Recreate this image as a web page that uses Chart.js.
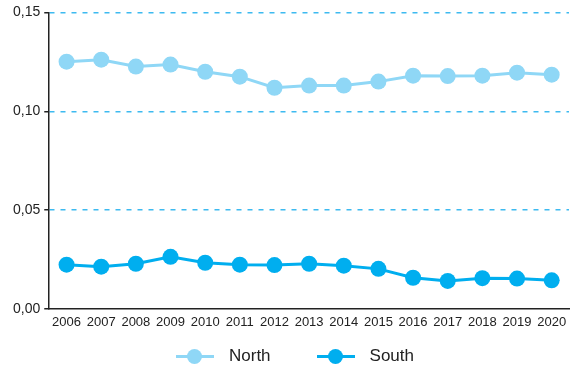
<!DOCTYPE html>
<html>
<head>
<meta charset="utf-8">
<script src="https://cdn.jsdelivr.net/npm/chart.js@4"></script>
<style>
  html, body { margin: 0; padding: 0; background: #fff; }
  #wrap { position: relative; width: 577px; height: 370px; }
  #legend {
    position: absolute; left: 176px; top: 346px; height: 20px;
    display: flex; align-items: center;
    font-family: "Liberation Sans", Arial, sans-serif; font-size: 17px; color: #222;
  }
  .item { display: flex; align-items: center; margin-right: 46px; }
  .mk { position: relative; width: 38px; height: 16px; margin-right: 15px; }
  .ln { position: absolute; left: 0; right: 0; top: 6.5px; height: 3px; }
  .dot { position: absolute; left: 11px; top: 0.5px; width: 15px; height: 15px; border-radius: 50%; }
</style>
</head>
<body>
<div id="wrap">
  <canvas id="lineChart"></canvas>
  <div id="legend"></div>
</div>
<script>
const years = ['2006', '2007', '2008', '2009', '2010', '2011', '2012', '2013', '2014', '2015', '2016', '2017', '2018', '2019', '2020'];
const northValues = [0.1251, 0.1261, 0.1226, 0.1236, 0.1200, 0.1175, 0.1119, 0.1130, 0.1130, 0.1150, 0.1180, 0.1178, 0.1180, 0.1195, 0.1185];
const southValues = [0.0224, 0.0214, 0.0229, 0.0264, 0.0234, 0.0224, 0.0222, 0.0229, 0.0219, 0.0203, 0.0158, 0.0142, 0.0156, 0.0154, 0.0145];
const yTicks = [0, 0.05, 0.10, 0.15];

const northColor = '#8fd7f6';
const southColor = '#00aeef';

function buildLegend(chart) {
    var legendControl = document.getElementById('legend');
    chart.data.datasets.forEach(function (ds) {
        var item = document.createElement('span');
        item.className = 'item';
        item.innerHTML = '<span class="mk"><i class="ln"></i><i class="dot"></i></span><span class="tx"></span>';
        item.querySelector('.ln').style.background = ds.borderColor;
        item.querySelector('.dot').style.background = ds.borderColor;
        item.querySelector('.tx').textContent = ds.label;
        legendControl.appendChild(item);
    });
}

function initChart() {

    var chartControl = document.getElementById('lineChart');

    var lineChart = new Chart(chartControl, {
        type: 'line',
        data: {
            labels: years,
            datasets: [
                {
                    label: 'North',
                    data: northValues,
                    borderColor: northColor,
                    backgroundColor: northColor,
                    pointBackgroundColor: northColor,
                    borderWidth: 3,
                    pointRadius: 8,
                    pointBorderWidth: 0,
                    pointHoverRadius: 8
                },
                {
                    label: 'South',
                    data: southValues,
                    borderColor: southColor,
                    backgroundColor: southColor,
                    pointBackgroundColor: southColor,
                    borderWidth: 3,
                    pointRadius: 8,
                    pointBorderWidth: 0,
                    pointHoverRadius: 8
                }
            ]
        },
        options: {
            animation: false,
            responsive: true,
            maintainAspectRatio: false,
            layout: {
                padding: { top: 7, right: 7, left: 9, bottom: 41 }
            },
            scales: {
                x: {
                    offset: true,
                    grid: {
                        display: false,
                        drawTicks: false
                    },
                    border: {
                        display: true,
                        color: '#222',
                        width: 1.5
                    },
                    ticks: {
                        color: '#222',
                        maxRotation: 0,
                        autoSkip: false,
                        padding: 6,
                        font: { family: '"Liberation Sans", Arial, sans-serif', size: 13 }
                    },
                    afterFit: function (scale) {
                        scale.height = 20;
                    }
                },
                y: {
                    min: 0,
                    max: 0.15,
                    afterBuildTicks: function (axis) {
                        axis.ticks = yTicks.map(function (v) { return { value: v }; });
                    },
                    grid: {
                        color: function (context) {
                            return context.tick && context.tick.value === 0 ? 'rgba(0,0,0,0)' : '#3dbaf0';
                        },
                        lineWidth: 1.5,
                        tickColor: '#222',
                        tickLength: 5,
                        tickBorderDash: [],
                        drawTicks: true
                    },
                    border: {
                        display: true,
                        color: '#222',
                        width: 1.5,
                        dash: [5, 6]
                    },
                    ticks: {
                        color: '#222',
                        padding: 4,
                        font: { family: '"Liberation Sans", Arial, sans-serif', size: 14 },
                        callback: function (value) {
                            return value.toFixed(2).replace('.', ',');
                        }
                    }
                }
            },
            plugins: {
                legend: { display: false },
                tooltip: { enabled: false }
            }
        }
    });

    buildLegend(lineChart);
}

initChart();
</script>
</body>
</html>
